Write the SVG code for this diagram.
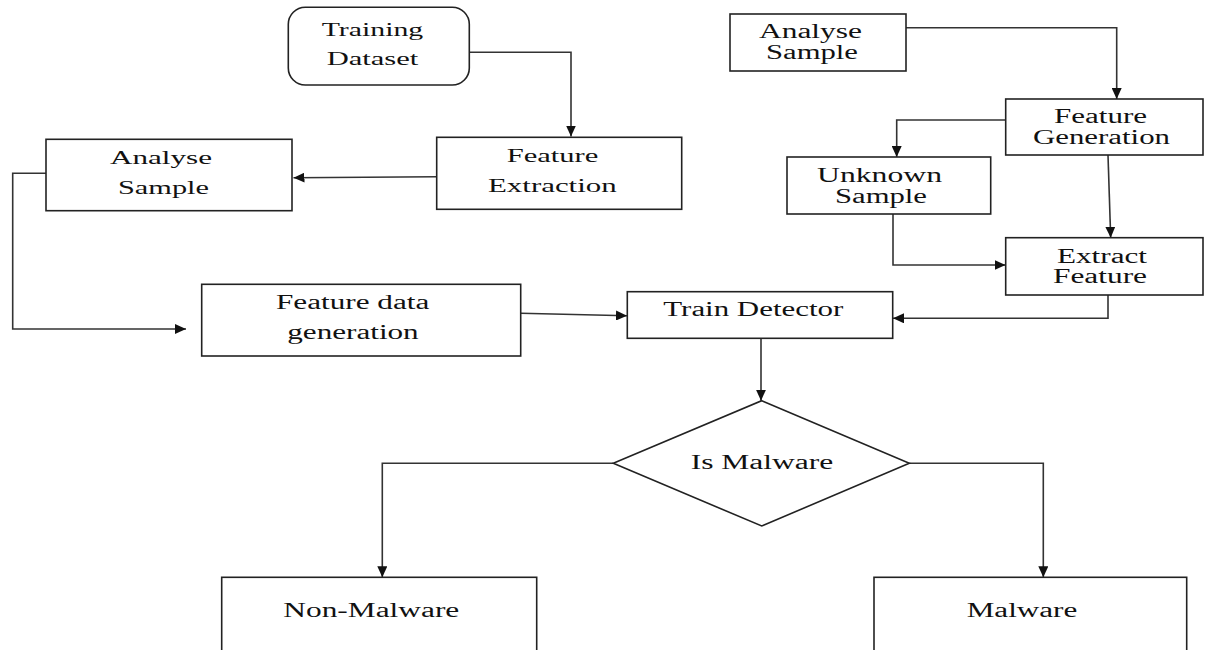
<svg xmlns="http://www.w3.org/2000/svg" width="1208" height="650" viewBox="0 0 1208 650">
<style>
.box{fill:#fff;stroke:#222;stroke-width:1.6}
.t{font-family:"Liberation Serif","Times New Roman",serif;fill:#111}
.s18{font-size:18px}
.s20{font-size:20px}
.c{fill:none;stroke:#333;stroke-width:1.6}
</style>
<defs>
<marker id="ah" markerUnits="userSpaceOnUse" markerWidth="12" markerHeight="10" refX="11" refY="5" orient="auto">
<path d="M0,0 L11,5 L0,10 Z" fill="#111"/>
</marker>
</defs>
<rect width="1208" height="650" fill="#fff"/>
<g id="connectors">
<path class="c" d="M469.3,52.3 H571 V136.5" marker-end="url(#ah)"/>
<path class="c" d="M436.7,176.7 L293.5,177.7" marker-end="url(#ah)"/>
<path class="c" d="M46,173.3 H12.7 V329 H186" marker-end="url(#ah)"/>
<path class="c" d="M520.7,313.3 L627,315.7" marker-end="url(#ah)"/>
<path class="c" d="M906,27.7 H1116.7 V99" marker-end="url(#ah)"/>
<path class="c" d="M1005.7,120 H896.7 V157" marker-end="url(#ah)"/>
<path class="c" d="M893,214 V265 H1005.5" marker-end="url(#ah)"/>
<path class="c" d="M1108,155 L1110.7,237.7" marker-end="url(#ah)"/>
<path class="c" d="M1108,295 V318.3 H893" marker-end="url(#ah)"/>
<path class="c" d="M761,338.3 V400.7" marker-end="url(#ah)"/>
<path class="c" d="M613.3,463.3 H382.3 V577.3" marker-end="url(#ah)"/>
<path class="c" d="M909.3,463.3 H1043.3 V577.3" marker-end="url(#ah)"/>
</g>
<g id="training-dataset">
<rect class="box" x="288.3" y="7.3" width="181" height="77.7" rx="17" ry="17"/>
<text class="t s18" x="321.7" y="35.7" textLength="101.6" lengthAdjust="spacingAndGlyphs">Training</text>
<text class="t s18" x="326.7" y="65.3" textLength="91.6" lengthAdjust="spacingAndGlyphs">Dataset</text>
</g>
<g id="feature-extraction">
<rect class="box" x="436.7" y="137.3" width="245" height="72"/>
<text class="t s18" x="506.7" y="162.3" textLength="91.6" lengthAdjust="spacingAndGlyphs">Feature</text>
<text class="t s18" x="488" y="191.7" textLength="128.7" lengthAdjust="spacingAndGlyphs">Extraction</text>
</g>
<g id="analyse-sample-left">
<rect class="box" x="46" y="139.3" width="246" height="71.4"/>
<text class="t s18" x="110" y="164.3" textLength="102" lengthAdjust="spacingAndGlyphs">Analyse</text>
<text class="t s18" x="118" y="194" textLength="91" lengthAdjust="spacingAndGlyphs">Sample</text>
</g>
<g id="feature-data-generation">
<rect class="box" x="201.7" y="284.3" width="319" height="71.7"/>
<text class="t s20" x="276" y="309" textLength="153.3" lengthAdjust="spacingAndGlyphs">Feature data</text>
<text class="t s20" x="287.3" y="339.3" textLength="131.4" lengthAdjust="spacingAndGlyphs">generation</text>
</g>
<g id="train-detector">
<rect class="box" x="627.3" y="291.7" width="265.4" height="46.6"/>
<text class="t s20" x="663.3" y="315.7" textLength="180" lengthAdjust="spacingAndGlyphs">Train Detector</text>
</g>
<g id="analyse-sample-right">
<rect class="box" x="730" y="14" width="176" height="57"/>
<text class="t s20" x="759" y="38" textLength="103" lengthAdjust="spacingAndGlyphs">Analyse</text>
<text class="t s20" x="766" y="59" textLength="92" lengthAdjust="spacingAndGlyphs">Sample</text>
</g>
<g id="feature-generation">
<rect class="box" x="1005.7" y="99" width="197.3" height="56"/>
<text class="t s20" x="1054" y="123" textLength="93" lengthAdjust="spacingAndGlyphs">Feature</text>
<text class="t s20" x="1033" y="144" textLength="137" lengthAdjust="spacingAndGlyphs">Generation</text>
</g>
<g id="unknown-sample">
<rect class="box" x="787" y="157" width="203.7" height="57"/>
<text class="t s20" x="817" y="182" textLength="125" lengthAdjust="spacingAndGlyphs">Unknown</text>
<text class="t s20" x="835" y="203" textLength="92" lengthAdjust="spacingAndGlyphs">Sample</text>
</g>
<g id="extract-feature">
<rect class="box" x="1005.7" y="237.7" width="197.3" height="57.3"/>
<text class="t s20" x="1057" y="263" textLength="90" lengthAdjust="spacingAndGlyphs">Extract</text>
<text class="t s20" x="1053" y="283" textLength="94" lengthAdjust="spacingAndGlyphs">Feature</text>
</g>
<g id="is-malware">
<polygon class="box" points="761.7,400.7 909.3,463.3 761.7,526 613.3,463.3"/>
<text class="t s20" x="690.7" y="469" textLength="142.6" lengthAdjust="spacingAndGlyphs">Is Malware</text>
</g>
<g id="non-malware">
<rect class="box" x="221.7" y="577.3" width="315" height="90"/>
<text class="t s20" x="283.3" y="617.3" textLength="176" lengthAdjust="spacingAndGlyphs">Non-Malware</text>
</g>
<g id="malware">
<rect class="box" x="874" y="577.3" width="312.7" height="90"/>
<text class="t s20" x="966.7" y="617.3" textLength="110.6" lengthAdjust="spacingAndGlyphs">Malware</text>
</g>
</svg>
